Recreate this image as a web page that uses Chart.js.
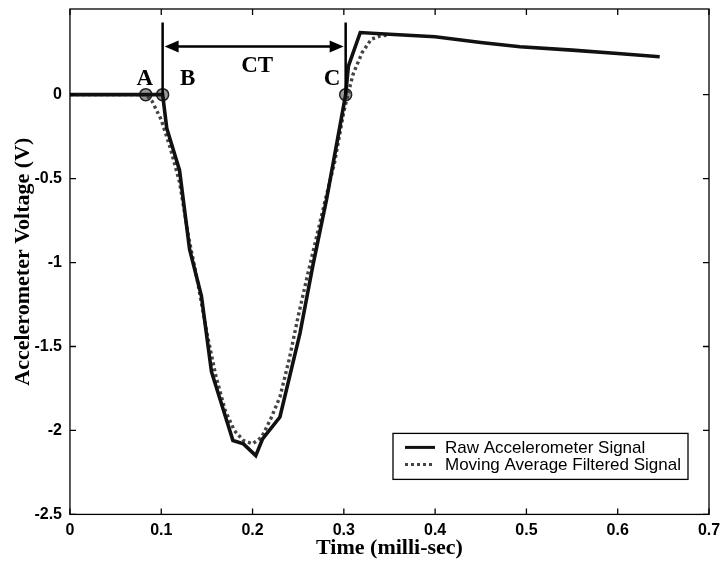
<!DOCTYPE html>
<html>
<head>
<meta charset="utf-8">
<script src="https://cdn.jsdelivr.net/npm/chart.js@4/dist/chart.umd.min.js"></script>
<style>
  html, body { margin: 0; padding: 0; background: #fff; }
  #wrap { width: 723px; height: 565px; }
</style>
</head>
<body>
<div id="wrap"><canvas id="accChart" width="723" height="565"></canvas></div>
<script>
// time in milli-sec, voltage in V
const rawTime = [0, 0.083, 0.1015, 0.106, 0.12, 0.131, 0.144, 0.155, 0.1785, 0.19, 0.2035, 0.211, 0.23, 0.252, 0.266, 0.281, 0.302, 0.305, 0.318, 0.35, 0.4, 0.45, 0.493, 0.55, 0.6, 0.646];
const rawVolt = [0, 0, 0, -0.2, -0.45, -0.92, -1.2, -1.65, -2.06, -2.08, -2.15, -2.05, -1.92, -1.42, -1.02, -0.625, 0, 0.17, 0.37, 0.36, 0.345, 0.31, 0.285, 0.265, 0.245, 0.226];

const filtTime = [0, 0.083, 0.09, 0.1, 0.11, 0.12, 0.13, 0.14, 0.15, 0.16, 0.17, 0.18, 0.19, 0.2, 0.21, 0.22, 0.23, 0.24, 0.25, 0.26, 0.27, 0.28, 0.29, 0.3, 0.31, 0.32, 0.33, 0.34, 0.35];
const filtVolt = [0, 0, -0.04, -0.15, -0.32, -0.52, -0.85, -1.12, -1.42, -1.68, -1.88, -2.0, -2.06, -2.08, -2.04, -1.93, -1.8, -1.58, -1.32, -1.08, -0.85, -0.62, -0.4, -0.1, 0.12, 0.25, 0.33, 0.35, 0.355];

const pointNames = ['A', 'B', 'C'];
const pointTime = [0.083, 0.1015, 0.302];
const pointVolt = [0, 0, 0];

const xTicks = [0, 0.1, 0.2, 0.3, 0.4, 0.5, 0.6, 0.7];
const yTicks = [-2.5, -2, -1.5, -1, -0.5, 0];

const legendNames = ['Raw Accelerometer Signal', 'Moving Average Filtered Signal'];

const zip = (xs, ys) => xs.map((x, i) => ({ x: x, y: ys[i] }));

// inward ticks on all four sides, MATLAB style
const boxTicks = {
    id: 'boxTicks',
    afterDraw(chart) {
        const { ctx, chartArea: a, scales: { x, y } } = chart;
        ctx.save();
        ctx.strokeStyle = '#000';
        ctx.lineWidth = 1.3;
        ctx.strokeRect(a.left, a.top, a.right - a.left, a.bottom - a.top);
        ctx.beginPath();
        xTicks.forEach(t => {
            const px = x.getPixelForValue(t);
            ctx.moveTo(px, a.bottom); ctx.lineTo(px, a.bottom - 6);
            ctx.moveTo(px, a.top); ctx.lineTo(px, a.top + 6);
        });
        yTicks.forEach(t => {
            const py = y.getPixelForValue(t);
            ctx.moveTo(a.left, py); ctx.lineTo(a.left + 6, py);
            ctx.moveTo(a.right, py); ctx.lineTo(a.right - 6, py);
        });
        ctx.stroke();
        ctx.restore();
    }
};

function arrowHead(ctx, x0, y0, dir) {
    ctx.beginPath();
    ctx.moveTo(x0, y0);
    ctx.lineTo(x0 + dir * 14, y0 - 6);
    ctx.lineTo(x0 + dir * 14, y0 + 6);
    ctx.closePath();
    ctx.fill();
}

// CT markers, arrow and letters
const ctNotes = {
    id: 'ctNotes',
    afterDatasetsDraw(chart) {
        const { ctx, scales: { x, y } } = chart;
        const xb = x.getPixelForValue(pointTime[1]);
        const xc = x.getPixelForValue(pointTime[2]);
        const y0 = y.getPixelForValue(0);
        const yTop = y.getPixelForValue(0.43);
        const yArr = y.getPixelForValue(0.286);
        ctx.save();
        ctx.strokeStyle = '#000';
        ctx.fillStyle = '#000';
        ctx.lineWidth = 2.5;
        ctx.beginPath();
        ctx.moveTo(xb, y0); ctx.lineTo(xb, yTop);
        ctx.moveTo(xc, y0); ctx.lineTo(xc, yTop);
        ctx.moveTo(xb + 6, yArr); ctx.lineTo(xc - 6, yArr);
        ctx.stroke();
        arrowHead(ctx, xb + 2, yArr, 1);
        arrowHead(ctx, xc - 2, yArr, -1);

        ctx.font = 'bold 23px "Liberation Serif"';
        ctx.textAlign = 'center';
        ctx.textBaseline = 'alphabetic';
        ctx.fillText('A', x.getPixelForValue(0.082), y.getPixelForValue(0.057));
        ctx.fillText('B', x.getPixelForValue(0.129), y.getPixelForValue(0.057));
        ctx.fillText('C', x.getPixelForValue(0.287), y.getPixelForValue(0.057));
        ctx.fillText('CT', x.getPixelForValue(0.205), y.getPixelForValue(0.134));
        ctx.restore();
    }
};

// legend box inside the axes, lower right
const boxLegend = {
    id: 'boxLegend',
    afterDraw(chart) {
        const { ctx, chartArea: a } = chart;
        const w = 295, h = 46;
        const left = a.right - 21 - w;
        const top = a.bottom - 81;
        ctx.save();
        ctx.fillStyle = '#fff';
        ctx.fillRect(left, top, w, h);
        ctx.strokeStyle = '#000';
        ctx.lineWidth = 1.3;
        ctx.strokeRect(left, top, w, h);
        ctx.font = '17px "Liberation Sans"';
        ctx.textBaseline = 'middle';
        ctx.fillStyle = '#000';
        const styles = chart.data.datasets;
        legendNames.forEach((name, i) => {
            const ly = top + 14 + i * 17;
            ctx.beginPath();
            ctx.lineWidth = 3;
            ctx.strokeStyle = styles[i].borderColor;
            ctx.setLineDash(styles[i].borderDash || []);
            ctx.moveTo(left + 12, ly);
            ctx.lineTo(left + 42, ly);
            ctx.stroke();
            ctx.setLineDash([]);
            ctx.fillText(name, left + 52, ly + 1);
        });
        ctx.restore();
    }
};

const noScalePad = s => {
    s.paddingTop = 0;
    s.paddingBottom = 0;
    s.paddingLeft = 0;
    s.paddingRight = 0;
};

new Chart(document.getElementById('accChart'), {
    type: 'line',
    data: {
        datasets: [
            {
                label: legendNames[0],
                data: zip(rawTime, rawVolt),
                borderColor: '#111',
                borderWidth: 3.6,
                pointRadius: 0,
                tension: 0
            },
            {
                label: legendNames[1],
                data: zip(filtTime, filtVolt),
                borderColor: '#444',
                borderWidth: 3.4,
                borderDash: [3, 3],
                pointRadius: 0,
                tension: 0
            },
            {
                type: 'scatter',
                label: 'points',
                data: zip(pointTime, pointVolt),
                pointRadius: 6,
                pointBackgroundColor: '#9a9a9a',
                pointBorderColor: '#222',
                pointBorderWidth: 1.5
            }
        ]
    },
    options: {
        responsive: false,
        animation: false,
        layout: { padding: { top: 9, right: 14, left: 10, bottom: 0 } },
        plugins: { legend: { display: false }, tooltip: { enabled: false } },
        scales: {
            x: {
                type: 'linear',
                min: 0,
                max: 0.7,
                afterBuildTicks: s => { s.ticks = xTicks.map(v => ({ value: v })); },
                afterFit: noScalePad,
                grid: { display: false, drawTicks: false },
                border: { display: false },
                ticks: {
                    color: '#000',
                    padding: 7,
                    maxRotation: 0,
                    font: { family: 'Liberation Sans', size: 16, weight: 'bold' },
                    callback: v => String(Math.round(v * 10) / 10)
                },
                title: {
                    display: true,
                    text: 'Time (milli-sec)',
                    color: '#000',
                    padding: { top: -12, bottom: 3 },
                    font: { family: 'Liberation Serif', size: 22, weight: 'bold' }
                }
            },
            y: {
                type: 'linear',
                min: -2.5,
                max: 0.51,
                afterBuildTicks: s => { s.ticks = yTicks.map(v => ({ value: v })); },
                afterFit: noScalePad,
                grid: { display: false, drawTicks: false },
                border: { display: false },
                ticks: {
                    color: '#000',
                    padding: 8,
                    font: { family: 'Liberation Sans', size: 16, weight: 'bold' },
                    callback: v => String(v)
                },
                title: {
                    display: true,
                    text: 'Accelerometer Voltage (V)',
                    color: '#000',
                    padding: { top: 0, bottom: -10 },
                    font: { family: 'Liberation Serif', size: 22, weight: 'bold' }
                }
            }
        }
    },
    plugins: [boxTicks, ctNotes, boxLegend]
});
</script>
</body>
</html>
